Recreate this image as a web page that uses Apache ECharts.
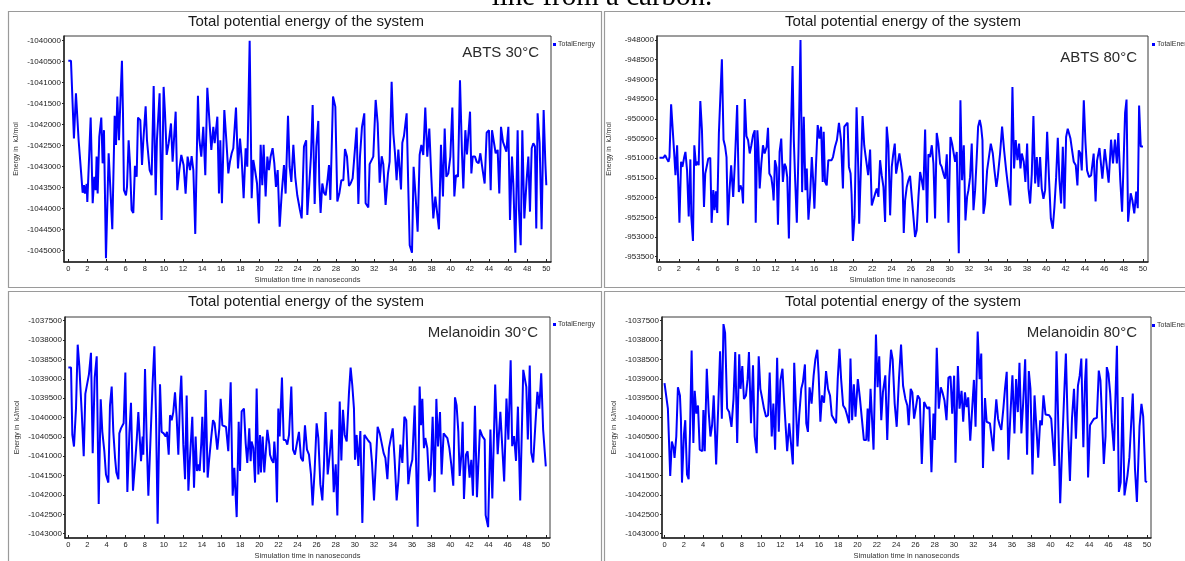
<!DOCTYPE html>
<html><head><meta charset="utf-8">
<script src="https://cdn.jsdelivr.net/npm/echarts@6/dist/echarts.min.js"></script>
<style>html,body{margin:0;padding:0;background:#fff;overflow:hidden}#c{width:1185px;height:561px}</style>
</head><body><div id="c"></div>
<script>
// ---------- tick labels ----------
const timeTicks = [0,2,4,6,8,10,12,14,16,18,20,22,24,26,28,30,32,34,36,38,40,42,44,46,48,50];
const abts30Ticks = [-1045000,-1044500,-1044000,-1043500,-1043000,-1042500,-1042000,-1041500,-1041000,-1040500,-1040000];
const abts80Ticks = [-953500,-953000,-952500,-952000,-951500,-951000,-950500,-950000,-949500,-949000,-948500,-948000];
const melTicks = [-1043000,-1042500,-1042000,-1041500,-1041000,-1040500,-1040000,-1039500,-1039000,-1038500,-1038000,-1037500];

// ---------- text ----------
const chartTitle = 'Total potential energy of the system';
const xName = 'Simulation time in nanoseconds';
const yName = 'Energy in  kJ/mol';
const seriesName = 'TotalEnergy';
const panelLabels = ['ABTS 30°C','ABTS 80°C','Melanoidin 30°C','Melanoidin 80°C'];
const captionText = 'line from a carbon.';

// ---------- ABTS 30°C ----------
const abts30Time = [0,0.28,0.59,0.80,1.08,1.32,1.50,1.64,1.74,1.92,1.99,2.34,2.55,2.72,2.86,2.96,3.07,3.24,3.45,3.59,3.73,3.94,4.22,4.39,4.60,4.85,4.99,5.13,5.30,5.44,5.61,5.72,5.82,6.03,6.14,6.31,6.45,6.62,6.80,6.97,7.15,7.29,7.53,7.71,7.85,8.09,8.23,8.51,8.72,8.93,9.14,9.27,9.55,9.76,9.97,10.11,10.29,10.50,10.74,10.91,11.02,11.23,11.40,11.61,11.82,12.06,12.27,12.48,12.73,12.90,13.08,13.28,13.56,13.70,13.91,14.12,14.33,14.54,14.78,14.96,15.17,15.31,15.45,15.59,15.76,15.90,16.07,16.32,16.53,16.74,16.91,17.09,17.26,17.54,17.75,17.96,18.13,18.34,18.55,18.72,18.97,19.18,19.35,19.53,19.74,19.94,20.12,20.29,20.43,20.64,20.82,20.99,21.16,21.37,21.55,21.72,21.90,22.11,22.32,22.56,22.73,22.98,23.15,23.33,23.54,23.74,23.95,24.23,24.41,24.65,24.88,25.00,25.21,25.38,25.56,25.77,25.94,26.15,26.25,26.39,26.57,26.74,26.92,27.13,27.27,27.41,27.69,27.93,28.14,28.35,28.56,28.77,28.94,29.15,29.36,29.53,29.74,29.92,30.16,30.34,30.51,30.72,30.96,31.10,31.38,31.52,31.69,31.90,32.15,32.36,32.57,32.78,32.95,33.19,33.44,33.61,33.82,34.00,34.17,34.34,34.52,34.66,34.80,34.94,35.11,35.39,35.56,35.71,35.95,36.12,36.33,36.54,36.75,36.93,37.13,37.34,37.55,37.76,37.97,38.18,38.39,38.56,38.77,38.98,39.19,39.37,39.54,39.75,39.96,40.17,40.38,40.55,40.76,40.97,41.18,41.32,41.53,41.70,42.02,42.16,42.30,42.54,42.71,42.92,43.10,43.34,43.55,43.76,44.00,44.18,44.32,44.49,44.70,44.91,45.08,45.26,45.47,45.64,45.82,46.03,46.20,46.41,46.55,46.76,46.90,47.00,47.14,47.32,47.49,47.70,47.94,48.12,48.29,48.47,48.64,48.81,48.95,49.09,49.30,49.51,49.72,49.90,50.00];
const abts30Energy = [-1040480,-1040480,-1042330,-1041250,-1042370,-1043080,-1043620,-1043440,-1043640,-1043410,-1043840,-1041830,-1043870,-1043240,-1043560,-1042760,-1043640,-1042290,-1041830,-1042920,-1042130,-1045180,-1042680,-1043480,-1044490,-1041790,-1042480,-1041330,-1042370,-1041490,-1040480,-1041730,-1043560,-1043680,-1043480,-1042370,-1042920,-1044030,-1044100,-1042980,-1043240,-1041830,-1041890,-1042960,-1042370,-1041560,-1042370,-1043080,-1043200,-1041080,-1043680,-1042370,-1041250,-1044270,-1041100,-1041690,-1042720,-1042440,-1041970,-1042880,-1042480,-1041690,-1043560,-1043080,-1042720,-1042960,-1043640,-1042760,-1043080,-1042750,-1043080,-1044600,-1041310,-1042330,-1042760,-1042050,-1043200,-1041120,-1041970,-1042600,-1042050,-1042440,-1042130,-1041810,-1043640,-1042370,-1043870,-1041650,-1042370,-1043160,-1042880,-1042680,-1042560,-1041590,-1043040,-1042330,-1042800,-1043750,-1042560,-1043000,-1040000,-1043750,-1042840,-1043080,-1043400,-1044350,-1042480,-1043440,-1042480,-1043710,-1042760,-1043080,-1042760,-1042560,-1042920,-1043480,-1043080,-1044430,-1043640,-1042960,-1043640,-1041790,-1043000,-1043360,-1042480,-1043240,-1043680,-1044030,-1044230,-1042520,-1042370,-1044150,-1043400,-1042760,-1041530,-1043890,-1042520,-1041910,-1043360,-1044100,-1043400,-1043620,-1043680,-1043280,-1042960,-1043790,-1041330,-1041570,-1043830,-1043640,-1043320,-1043320,-1042580,-1042760,-1043460,-1043400,-1043280,-1042760,-1042070,-1043890,-1042760,-1042050,-1041730,-1043870,-1043970,-1042940,-1042900,-1042760,-1041410,-1041970,-1043380,-1042750,-1042940,-1043910,-1043160,-1042880,-1040980,-1042210,-1042680,-1043320,-1042590,-1042620,-1043540,-1042430,-1042270,-1041730,-1043480,-1044870,-1045050,-1043000,-1043710,-1044550,-1042720,-1042480,-1042720,-1041590,-1042760,-1042090,-1043240,-1044230,-1043710,-1043680,-1044490,-1042480,-1043710,-1042090,-1043240,-1043160,-1042760,-1041590,-1043710,-1043200,-1043240,-1040940,-1042680,-1043520,-1042130,-1042710,-1041690,-1043160,-1042760,-1042760,-1042880,-1042920,-1042680,-1043080,-1043400,-1042190,-1042130,-1043560,-1042130,-1042130,-1042680,-1042600,-1043640,-1042050,-1042410,-1042370,-1042640,-1042050,-1044270,-1042760,-1043400,-1045050,-1043320,-1042130,-1044030,-1044870,-1042130,-1044230,-1043320,-1042760,-1044070,-1042560,-1042440,-1042520,-1044470,-1041730,-1042440,-1044490,-1041650,-1042920,-1043440];

// ---------- ABTS 80°C ----------
const abts80Time = [0,0.41,0.58,0.75,0.93,1.03,1.20,1.37,1.54,1.65,1.82,2.06,2.23,2.37,2.54,2.68,2.85,3.02,3.19,3.29,3.46,3.60,3.77,3.95,4.05,4.22,4.39,4.60,4.73,4.94,5.04,5.25,5.39,5.56,5.69,5.83,5.97,6.14,6.31,6.45,6.62,6.79,6.93,7.07,7.24,7.41,7.62,7.79,8.03,8.20,8.37,8.54,8.64,8.82,8.99,9.16,9.33,9.50,9.67,9.85,9.95,10.12,10.22,10.36,10.53,10.70,10.87,11.08,11.22,11.36,11.56,11.73,11.80,11.94,12.11,12.25,12.42,12.59,12.76,12.93,13.07,13.21,13.38,13.55,13.76,13.89,14.03,14.20,14.37,14.58,14.75,14.92,15.09,15.23,15.40,15.57,15.75,15.88,16.02,16.19,16.36,16.54,16.71,16.88,16.98,17.12,17.29,17.46,17.63,17.80,17.94,18.15,18.35,18.56,18.77,18.97,19.11,19.31,19.45,19.59,19.76,19.86,20.00,20.17,20.38,20.55,20.65,20.82,21.00,21.17,21.30,21.44,21.58,21.78,21.95,22.12,22.30,22.47,22.64,22.81,22.98,23.16,23.33,23.50,23.67,23.85,24.02,24.16,24.33,24.47,24.64,24.81,24.98,25.12,25.26,25.40,25.57,25.74,25.91,26.09,26.26,26.43,26.60,26.78,26.95,27.12,27.29,27.47,27.67,27.81,27.98,28.16,28.33,28.50,28.67,28.84,29.02,29.19,29.36,29.53,29.71,29.88,30.09,30.26,30.43,30.57,30.74,30.95,31.12,31.29,31.47,31.64,31.81,31.95,32.12,32.29,32.47,32.64,32.81,32.95,33.12,33.26,33.40,33.50,33.67,33.88,34.05,34.26,34.47,34.64,34.84,34.98,35.22,35.43,35.64,35.85,36.05,36.29,36.50,36.67,36.84,37.02,37.19,37.33,37.47,37.67,37.84,38.02,38.16,38.33,38.50,38.67,38.85,39.02,39.19,39.36,39.53,39.71,39.88,40.09,40.29,40.47,40.67,40.84,41.02,41.19,41.36,41.53,41.71,41.88,42.05,42.22,42.36,42.50,42.67,42.84,43.05,43.22,43.36,43.53,43.67,43.88,44.05,44.22,44.43,44.64,44.78,44.90,45.10,45.25,45.50,45.80,46.05,46.25,46.45,46.70,46.90,47.10,47.30,47.45,47.65,47.84,48.00,48.15,48.30,48.46,48.73,48.90,49.10,49.30,49.46,49.60,49.77,50.00];
const abts80Energy = [-950990,-950990,-950920,-951010,-951090,-950970,-949630,-950290,-950970,-951430,-950670,-952640,-951090,-951220,-950990,-950840,-951310,-952480,-951030,-952490,-953100,-950670,-951180,-951090,-951180,-949550,-950290,-952240,-951390,-951140,-951010,-950990,-952640,-951810,-952320,-951840,-952390,-950360,-950370,-948490,-950530,-950710,-950970,-952700,-951810,-951180,-951980,-951140,-949650,-951860,-951690,-951810,-952150,-949500,-950440,-950540,-950880,-950670,-950420,-950290,-952640,-950290,-950710,-951770,-951140,-950670,-950880,-950710,-950230,-951390,-951480,-951810,-952070,-951050,-951240,-952690,-950840,-950500,-951600,-951140,-951220,-951480,-953040,-950800,-948660,-950540,-951560,-952640,-950880,-948000,-951860,-949950,-951810,-951260,-952560,-951980,-950970,-951520,-952280,-951140,-950160,-950500,-950200,-951600,-950330,-951600,-951690,-951050,-951080,-951050,-950970,-950710,-950540,-950100,-950540,-951770,-950200,-950160,-950100,-951220,-951390,-951900,-953100,-952490,-949710,-951220,-952660,-951310,-949930,-950670,-950920,-950920,-951430,-950780,-952200,-952220,-951900,-951770,-951980,-951050,-951430,-951730,-952620,-950200,-950670,-952450,-951220,-950920,-950630,-951390,-951140,-950880,-950880,-951390,-952900,-952070,-951730,-951560,-951450,-951980,-952490,-953000,-952830,-951980,-951350,-951560,-951810,-950270,-952640,-950900,-950970,-950670,-951140,-952530,-950360,-950630,-951140,-951220,-951390,-951520,-950900,-952640,-950460,-950630,-950670,-951090,-950840,-953410,-949530,-951560,-950670,-952580,-951980,-951810,-951480,-950630,-952320,-951810,-950970,-950200,-950030,-950200,-950540,-952410,-952150,-951310,-951260,-950630,-950880,-951310,-951730,-951480,-950880,-950200,-950800,-951310,-951730,-952200,-949190,-951260,-950540,-951050,-950630,-951260,-950880,-951090,-951600,-950630,-951770,-952150,-951410,-949930,-951640,-950970,-951730,-950970,-951770,-952030,-951810,-950330,-951560,-952530,-952790,-952240,-951480,-950480,-951560,-952150,-950710,-952280,-950460,-950250,-950250,-950500,-950800,-951090,-951180,-951690,-950800,-950880,-951310,-949530,-950590,-951310,-951480,-951430,-951480,-950880,-952100,-951060,-950740,-951520,-950770,-951190,-951620,-950530,-951130,-950530,-951130,-950360,-951550,-952360,-952400,-949850,-949510,-952610,-951890,-952060,-952400,-951850,-952270,-949660,-950700,-950700];

// ---------- Melanoidin 30°C ----------
const mel30Time = [0,0.28,0.42,0.59,0.80,0.98,1.15,1.40,1.61,1.78,1.95,2.16,2.37,2.55,2.76,2.97,3.18,3.39,3.56,3.77,3.94,4.19,4.36,4.54,4.71,4.89,5.03,5.24,5.34,5.51,5.65,5.79,5.97,6.18,6.39,6.56,6.77,6.98,7.16,7.33,7.61,7.78,7.85,8.03,8.20,8.38,8.62,8.83,9.01,9.18,9.35,9.60,9.77,9.98,10.19,10.33,10.51,10.65,10.82,10.99,11.17,11.34,11.52,11.69,11.83,12.04,12.22,12.39,12.57,12.74,12.98,13.16,13.33,13.47,13.64,13.75,13.93,14.03,14.21,14.38,14.59,14.73,14.94,15.15,15.32,15.60,15.81,15.95,16.13,16.30,16.51,16.65,16.75,17.00,17.21,17.38,17.63,17.84,17.98,18.15,18.39,18.57,18.74,18.95,19.09,19.19,19.37,19.55,19.72,19.90,20.07,20.17,20.35,20.52,20.66,20.84,21.05,21.12,21.29,21.47,21.57,21.74,21.85,21.99,22.13,22.37,22.55,22.76,22.93,23.11,23.35,23.53,23.73,23.94,24.15,24.36,24.57,24.78,24.99,25.20,25.41,25.58,25.79,26.00,26.18,26.39,26.60,26.77,26.94,27.16,27.37,27.58,27.79,28.00,28.17,28.42,28.59,28.76,28.94,29.15,29.39,29.56,29.74,29.91,30.02,30.19,30.37,30.58,30.79,31.00,31.17,31.42,31.63,31.80,32.01,32.22,32.39,32.61,32.81,33.02,33.20,33.41,33.58,33.76,33.97,34.17,34.38,34.56,34.77,34.98,35.19,35.39,35.60,35.81,36.02,36.27,36.37,36.58,36.79,36.93,37.07,37.24,37.38,37.59,37.77,37.94,38.15,38.36,38.54,38.71,38.92,39.09,39.30,39.48,39.69,39.90,40.10,40.31,40.49,40.66,40.84,40.98,41.19,41.29,41.43,41.64,41.81,42.02,42.20,42.37,42.58,42.79,43.10,43.35,43.60,43.70,43.96,44.20,44.40,44.70,44.96,45.24,45.40,45.64,45.88,46.08,46.32,46.48,46.68,46.88,47.08,47.32,47.64,47.96,48.12,48.32,48.48,48.68,48.92,49.12,49.32,49.52,49.72,50.00];
const mel30Energy = [-1038710,-1038710,-1040450,-1040750,-1039770,-1038120,-1038670,-1039860,-1041000,-1039390,-1039350,-1038880,-1038330,-1040920,-1038970,-1038420,-1042230,-1039530,-1040370,-1040870,-1041470,-1041680,-1039690,-1039200,-1040370,-1041040,-1041420,-1041590,-1040410,-1040280,-1040240,-1040150,-1038840,-1041920,-1040410,-1039620,-1041890,-1041210,-1040580,-1039860,-1041130,-1040490,-1040960,-1038750,-1040530,-1042020,-1040450,-1039090,-1038160,-1039940,-1042740,-1039140,-1040370,-1040410,-1040490,-1040370,-1040960,-1039940,-1040070,-1039860,-1039350,-1039980,-1040960,-1039520,-1038920,-1040700,-1041590,-1039430,-1041890,-1041040,-1039980,-1041810,-1040490,-1041380,-1041210,-1041380,-1040620,-1039980,-1041420,-1039290,-1041550,-1041130,-1040580,-1040070,-1040150,-1040830,-1040280,-1039520,-1040200,-1040240,-1040240,-1040280,-1040870,-1039090,-1042020,-1041300,-1042570,-1040110,-1041380,-1039840,-1039770,-1040660,-1041170,-1040280,-1041130,-1040620,-1040790,-1041680,-1039250,-1041470,-1040450,-1041420,-1040490,-1041420,-1041420,-1040320,-1040700,-1040960,-1041090,-1041170,-1040620,-1041210,-1042190,-1039770,-1040490,-1038970,-1040580,-1040580,-1040700,-1040450,-1039200,-1040830,-1040960,-1040660,-1040370,-1041040,-1041130,-1040200,-1040830,-1040960,-1041470,-1042270,-1041380,-1040150,-1040530,-1041720,-1042140,-1041210,-1039860,-1041470,-1040960,-1040310,-1041930,-1041210,-1042530,-1039590,-1041110,-1039800,-1040450,-1040620,-1039350,-1038710,-1039180,-1039770,-1041090,-1040450,-1041250,-1040350,-1042720,-1040450,-1040410,-1040600,-1040660,-1041170,-1042140,-1041090,-1040240,-1040410,-1040410,-1040920,-1041040,-1041590,-1040790,-1040790,-1040280,-1041090,-1042140,-1041640,-1040700,-1041170,-1039980,-1040070,-1041720,-1041300,-1041090,-1039690,-1039730,-1042820,-1039200,-1040200,-1039520,-1040790,-1040530,-1040790,-1041640,-1041470,-1039980,-1041930,-1039520,-1040750,-1039860,-1041470,-1040410,-1040370,-1040530,-1040790,-1041210,-1041760,-1039480,-1039690,-1040370,-1041510,-1040860,-1040110,-1042100,-1040960,-1040870,-1041550,-1041090,-1042020,-1039700,-1042060,-1040310,-1040480,-1040570,-1042520,-1042830,-1040310,-1042090,-1039150,-1040950,-1039850,-1040570,-1041650,-1039510,-1040570,-1038520,-1040740,-1040480,-1041120,-1039720,-1042140,-1038770,-1039210,-1040570,-1038660,-1040910,-1041160,-1040140,-1039340,-1039770,-1038860,-1040310,-1041260];

// ---------- Melanoidin 80°C ----------
const mel80Time = [0,0.35,0.59,0.76,0.94,1.04,1.22,1.39,1.60,1.70,1.81,2.01,2.15,2.33,2.50,2.64,2.81,2.99,3.13,3.30,3.47,3.65,3.78,3.92,4.03,4.17,4.38,4.58,4.76,4.93,5.10,5.35,5.56,5.76,5.94,6.11,6.28,6.49,6.70,6.94,7.15,7.33,7.53,7.74,7.88,8.06,8.23,8.44,8.61,8.75,8.96,9.17,9.34,9.55,9.76,9.93,10.10,10.31,10.52,10.73,10.90,11.11,11.28,11.46,11.67,11.84,12.01,12.22,12.40,12.53,12.71,12.92,13.09,13.30,13.44,13.61,13.78,13.96,14.17,14.34,14.55,14.69,14.86,15.03,15.24,15.45,15.63,15.83,15.97,16.15,16.32,16.53,16.74,16.94,17.15,17.33,17.53,17.78,17.95,18.13,18.30,18.51,18.72,18.92,19.13,19.27,19.44,19.62,19.79,20.03,20.24,20.45,20.66,20.90,21.05,21.14,21.35,21.55,21.66,21.91,22.08,22.25,22.46,22.63,22.88,23.08,23.29,23.47,23.64,23.85,24.06,24.30,24.51,24.72,24.96,25.16,25.30,25.51,25.68,25.86,26.03,26.24,26.45,26.66,26.90,27.07,27.24,27.45,27.66,27.87,28.01,28.21,28.42,28.63,28.80,29.01,29.22,29.42,29.64,29.81,30.01,30.15,30.40,30.57,30.78,30.95,31.13,31.30,31.47,31.68,31.88,32.06,32.23,32.45,32.65,32.82,33.00,33.21,33.38,33.55,33.72,33.90,34.07,34.21,34.38,34.56,34.73,34.90,35.11,35.28,35.46,35.63,35.84,36.05,36.26,36.43,36.61,36.78,36.98,37.16,37.37,37.57,37.75,37.92,38.13,38.34,38.54,38.72,38.93,39.10,39.27,39.48,39.65,39.86,40.07,40.24,40.42,40.62,40.79,41.00,41.21,41.39,41.59,41.77,42.01,42.22,42.43,42.63,42.84,43.02,43.19,43.40,43.57,43.71,43.89,44.09,44.30,44.51,44.80,45.00,45.17,45.36,45.52,45.70,45.83,46.00,46.18,46.35,46.57,46.88,47.08,47.27,47.47,47.66,47.97,48.17,48.36,48.52,48.75,48.95,49.22,49.42,49.60,49.84,50.00];
const mel80Energy = [-1039110,-1039770,-1041510,-1040620,-1040790,-1041040,-1040490,-1039220,-1039430,-1040030,-1041680,-1040450,-1040070,-1041470,-1041590,-1040410,-1038270,-1040660,-1039310,-1039900,-1039690,-1040830,-1040870,-1040870,-1039810,-1040870,-1038740,-1039860,-1040490,-1040200,-1039430,-1041210,-1039770,-1038290,-1040030,-1037590,-1037820,-1039770,-1039860,-1040240,-1039520,-1038310,-1040660,-1038370,-1039260,-1038670,-1039520,-1039430,-1039010,-1038310,-1040150,-1038650,-1040490,-1040920,-1038420,-1039260,-1039480,-1039770,-1039980,-1039940,-1038840,-1040490,-1039640,-1040830,-1038460,-1040370,-1039050,-1038740,-1039600,-1039640,-1040870,-1040150,-1040150,-1041210,-1038590,-1038590,-1040750,-1039940,-1039260,-1039090,-1038630,-1040150,-1040370,-1039220,-1039640,-1038920,-1038500,-1038250,-1038880,-1040110,-1039430,-1039620,-1038800,-1039260,-1039430,-1039940,-1039980,-1040150,-1039010,-1038230,-1039010,-1039690,-1039770,-1039940,-1040150,-1038480,-1040070,-1039140,-1039980,-1039010,-1039480,-1040030,-1040580,-1040580,-1039770,-1040620,-1039260,-1039260,-1040830,-1037860,-1039220,-1038420,-1040070,-1039350,-1038910,-1040580,-1038970,-1038250,-1038500,-1039640,-1040240,-1038970,-1038120,-1039180,-1039520,-1039690,-1040200,-1039260,-1039350,-1040030,-1039770,-1039430,-1039520,-1041200,-1039600,-1039690,-1039770,-1039730,-1041410,-1039900,-1040580,-1038200,-1039770,-1039220,-1039350,-1039560,-1040070,-1038970,-1038940,-1039900,-1038920,-1041170,-1038670,-1039770,-1039310,-1040110,-1039350,-1039730,-1039480,-1040600,-1040580,-1039030,-1040240,-1037780,-1039010,-1038350,-1041300,-1039500,-1040110,-1040150,-1040150,-1040200,-1040870,-1040110,-1039530,-1040030,-1040200,-1040320,-1039770,-1039260,-1038820,-1041090,-1039940,-1038910,-1040410,-1039010,-1039860,-1038590,-1040410,-1039640,-1038500,-1040960,-1038800,-1039260,-1041470,-1039430,-1040280,-1041040,-1040070,-1040200,-1039430,-1039920,-1039900,-1039940,-1040030,-1040070,-1041250,-1038290,-1038290,-1042210,-1040700,-1039560,-1038350,-1040070,-1041640,-1040030,-1039260,-1040550,-1039180,-1038920,-1038480,-1040770,-1039090,-1038480,-1041550,-1040200,-1040110,-1040030,-1040010,-1038790,-1039040,-1040140,-1041200,-1040480,-1038700,-1038870,-1039380,-1040140,-1040860,-1038150,-1041920,-1041670,-1039470,-1042010,-1041500,-1041030,-1040990,-1039380,-1041330,-1042180,-1040230,-1039650,-1039970,-1041650,-1041670];

// ---------- layout (pixels) ----------
const FONT = '"Liberation Sans", Arial, sans-serif';
const panels = [
  {t: abts30Time, e: abts30Energy, ticks: abts30Ticks, grid:{left:64, top:36, width:487, height:226}, x:[-0.45,50.49], y:[-1045269,-1039888], frame:[8.5,11.5,593,276], titleX:306, titleY:22, lab:[539,53], leg:[553,41]},
  {t: abts80Time, e: abts80Energy, ticks: abts80Ticks, grid:{left:657, top:36, width:491, height:226}, x:[-0.26,50.52], y:[-953634,-947898], frame:[604.5,11.5,600,276], titleX:903, titleY:22, lab:[1137,58], leg:[1152,41]},
  {t: mel30Time, e: mel30Energy, ticks: melTicks, grid:{left:65, top:317, width:485, height:225}, x:[-0.35,50.44], y:[-1043110,-1037406], frame:[8.5,291.5,593,275], titleX:306, titleY:302, lab:[538,333], leg:[553,321]},
  {t: mel80Time, e: mel80Energy, ticks: melTicks, grid:{left:662, top:317, width:489, height:225}, x:[-0.26,50.41], y:[-1043110,-1037406], frame:[604.5,291.5,600,275], titleX:903, titleY:302, lab:[1137,333], leg:[1152,322]}
];

const grids=[], xAxes=[], yAxes=[], series=[], legends=[], graphics=[];
panels.forEach((p,i)=>{
  graphics.push({type:'rect', silent:true, z:-10, shape:{x:p.frame[0], y:p.frame[1], width:p.frame[2], height:p.frame[3]}, style:{fill:'#fff', stroke:'#9a9a9a', lineWidth:1.2}});
  graphics.push({type:'text', silent:true, x:p.titleX, y:p.titleY, style:{text:chartTitle, font:'15px '+FONT, fill:'#1a1a1a', align:'center', verticalAlign:'middle'}});
  graphics.push({type:'text', silent:true, z:100, x:p.lab[0], y:p.lab[1], style:{text:panelLabels[i], font:'15px '+FONT, fill:'#2a2a2a', align:'right', verticalAlign:'middle'}});
  grids.push(Object.assign({show:true, borderColor:'#3a3a3a', borderWidth:1, backgroundColor:'#fff'}, p.grid));
  xAxes.push({gridIndex:i, type:'value', min:p.x[0], max:p.x[1],
    name:xName, nameLocation:'middle', nameGap:14, nameTextStyle:{fontSize:7.5, color:'#333', fontFamily:FONT},
    axisLine:{show:true, onZero:false, lineStyle:{color:'#222', width:1.5}},
    axisTick:{show:true, inside:true, length:3, customValues:timeTicks, lineStyle:{color:'#222'}},
    axisLabel:{customValues:timeTicks, fontSize:7.5, margin:3, color:'#222', fontFamily:FONT, formatter:v=>String(v)},
    splitLine:{show:false}});
  yAxes.push({gridIndex:i, type:'value', min:p.y[0], max:p.y[1],
    name:yName, nameLocation:'middle', nameGap:44, nameRotate:90, nameTextStyle:{fontSize:7, color:'#333', fontFamily:FONT},
    axisLine:{show:true, onZero:false, lineStyle:{color:'#222', width:1.5}},
    axisTick:{show:true, inside:false, length:2, customValues:p.ticks, lineStyle:{color:'#222'}},
    axisLabel:{customValues:p.ticks, fontSize:8, margin:3, color:'#222', fontFamily:FONT, formatter:v=>String(v)},
    splitLine:{show:false}});
  series.push({name:seriesName, type:'line', xAxisIndex:i, yAxisIndex:i, showSymbol:false, symbol:'none', clip:true,
    color:'#0000ff', lineStyle:{color:'#0000ff', width:2}, data:p.t.map((x,k)=>[x,p.e[k]])});
  legends.push({data:[seriesName], left:p.leg[0], top:p.leg[1], padding:0, icon:'rect', itemWidth:3, itemHeight:3, itemGap:2,
    textStyle:{fontSize:7, color:'#333', fontFamily:FONT, padding:[0,0,0,-3]}, selectedMode:false});
});

// partial caption line of the surrounding document, cut by the top edge
graphics.push({type:'text', silent:true, z:200, x:602, y:-17, style:{text:captionText, font:'29px "Liberation Serif", "Times New Roman", serif', fill:'#000', align:'center', verticalAlign:'top'}});

const chart = echarts.init(document.getElementById('c'), null, {renderer:'canvas'});
chart.setOption({animation:false, backgroundColor:'#fff', grid:grids, xAxis:xAxes, yAxis:yAxes, series:series, legend:legends, graphic:graphics});
</script>
</body></html>
